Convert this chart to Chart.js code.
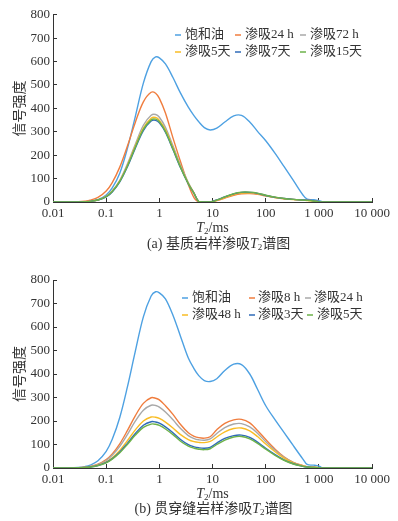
<!DOCTYPE html>
<html>
<head>
<meta charset="utf-8">
<script src="https://cdn.jsdelivr.net/npm/chart.js@4.4.0/dist/chart.umd.min.js"></script>
<style>
body{margin:0;background:#fff;}
canvas{display:block;}
</style>
</head>
<body>
<canvas id="chartA" width="398" height="256"></canvas>
<canvas id="chartB" width="398" height="265"></canvas>
<script>
// T2 sample points (ms), shared by every curve
const t2 = [0.01,0.02,0.03,0.04,0.05,0.07,0.1,0.13,0.18,0.25,0.35,0.5,0.7,0.85,1,1.3,1.8,2.5,3.5,4.5,5.5,7,9,12,17,25,35,50,70,100,150,220,330,500,600,800,1000,1200,2000,5000,10000];

const xTicks = [0.01,0.1,1,10,100,1000,10000];
const xTickLabels = ['0.01','0.1','1','10','100','1 000','10 000'];
const yTicks = [0,100,200,300,400,500,600,700,800];

// (a) matrix core
const namesA = ['饱和油','渗吸24 h','渗吸72 h','渗吸5天','渗吸7天','渗吸15天'];
const oilA  = [0,0,0.4,1.2,3,10,30,60,123,228,362,508,600,620,616,590,532,465,405,368,343,318,308,316,342,368,370,342,302,262,208,152,92,30,12,10,6,0,0,0,0];
const h24A  = [0,0,1.3,3.7,7.5,19.5,47,83,149,238,338,428,469,465,443,380,274,172,75,18,0,0,0,6,17,29,35,36,33,26,19,14,11,9,8,5,1,0,0,0,0];
const h72A  = [0,0,0.4,1.3,3,9,25,47,93,162,245,328,371,374,362,319,240,157,83,38,2,0,0,8,21,34,40,40,36,28,20,15,11,8,7,4,0,0,0,0,0];
const d5A   = [0,0,0.4,1.2,2.9,8.7,24,46,90,156,237,316,358,361,349,308,232,151,80,37,2,0,0,7,19,32,38,39,35,27,19,14,10,8,6,4,0,0,0,0,0];
const d7A   = [0,0,0.4,1.2,2.8,8.4,22,43,86,150,228,305,346,349,338,298,224,146,77,36,2,0,0,9,22,35,41,41,37,28,20,15,11,9,8,5,1,0,0,0,0];
const d15A  = [0,0,0.4,1.2,2.8,8.5,23,45,88,153,232,310,351,354,343,302,227,148,78,36,2,0,0,8,22,36,42,42,38,29,21,15,11,8,7,4,0,0,0,0,0];

// (b) through-fracture core
const namesB = ['饱和油','渗吸8 h','渗吸24 h','渗吸48 h','渗吸3天','渗吸5天'];
const oilB  = [0,0.6,2.5,6,12,31,71,122,215,344,493,643,732,750,745,720,650,560,468,422,393,372,368,380,415,442,440,400,335,265,205,152,95,38,15,12,8,0,0,0,0];
const h8B   = [0,0.3,1.3,3.3,6.5,16,36,60,103,159,221,275,299,297,290,265,228,185,150,135,129,127,133,163,190,205,207,192,160,121,80,48,24,10,6,3,1,0,0,0,0];
const h24B  = [0,0.3,1.2,3,6,14,32,54,92,142,198,246,267,266,259,238,205,168,138,125,120,118,124,147,172,187,189,175,148,112,75,45,23,9,5,3,1,0,0,0,0];
const h48B  = [0,0.2,0.9,2.4,4.7,12,26,44,75,116,161,200,217,216,211,195,170,142,121,112,109,108,113,132,154,168,170,158,134,102,69,42,22,9,5,3,1,0,0,0,0];
const d3B   = [0,0.2,0.9,2.2,4.3,10.5,24,40,68,105,146,182,197,196,191,175,150,121,99,90,86,84,88,106,126,138,140,130,110,84,57,35,18,7,4,2,1,0,0,0,0];
const d5B   = [0,0.2,0.8,2.1,4,10,22,38,65,100,139,173,187,186,181,166,142,114,93,84,80,78,82,100,119,132,134,124,105,80,54,33,17,7,4,2,1,0,0,0,0];

const colors = ['#4ea1e2','#f07d3e','#a8a8a8','#f9bd24','#2f6bb8','#6db24a'];

const serif = "'Liberation Serif','Noto Sans CJK SC',serif";
const txtColor = '#333';

function makeSets(names, series){
  return series.map((s, i) => ({
    label: names[i],
    data: t2.map((x, k) => ({x: x, y: s[k]})),
    borderColor: colors[i],
    borderWidth: 1.4,
    pointRadius: 0,
    fill: false,
    tension: 0.35,
    order: series.length - i
  }));
}

// draw a run of text pieces (normal / italic / subscript) centred on cx
function drawPieces(ctx, pieces, cx, cy){
  let w = 0;
  pieces.forEach(p => { ctx.font = p.font; p.w = ctx.measureText(p.text).width; w += p.w; });
  let x = cx - w / 2;
  ctx.textAlign = 'left';
  ctx.textBaseline = 'middle';
  ctx.fillStyle = txtColor;
  pieces.forEach(p => { ctx.font = p.font; ctx.fillText(p.text, x, cy + (p.dy || 0)); x += p.w; });
}

function t2Pieces(before, after){
  const out = [];
  if (before) out.push({text: before, font: '14px ' + serif});
  out.push({text: 'T', font: 'italic 14px ' + serif});
  out.push({text: '2', font: '9px ' + serif, dy: 4});
  out.push({text: after, font: '14px ' + serif});
  return out;
}

const decor = {
  id: 'decor',
  afterDraw(chart, args, o) {
    const ctx = chart.ctx;
    const area = chart.chartArea;
    const xs = chart.scales.x;
    ctx.save();
    // legend in 3 columns x 2 rows
    chart.data.datasets.forEach((ds, i) => {
      const col = i % 3, row = Math.floor(i / 3);
      const y = o.rowY[row];
      ctx.strokeStyle = ds.borderColor;
      ctx.lineWidth = 1.5;
      ctx.beginPath();
      ctx.moveTo(o.markX[row][col], y);
      ctx.lineTo(o.markX[row][col] + 6, y);
      ctx.stroke();
      ctx.fillStyle = txtColor;
      ctx.font = '13px ' + serif;
      ctx.textAlign = 'left';
      ctx.textBaseline = 'middle';
      ctx.fillText(ds.label, o.textX[row][col], y);
    });
    // x axis title
    const mid = (area.left + area.right) / 2;
    drawPieces(ctx, t2Pieces('', '/ms'), mid, xs.bottom - 12);
    // caption
    drawPieces(ctx, t2Pieces(o.capHead, '谱图'), mid + o.capShift, o.capY);
    ctx.restore();
  }
};

function makeChart(id, names, series, padTop, padBottom, deco){
  return new Chart(document.getElementById(id), {
    type: 'line',
    data: {datasets: makeSets(names, series)},
    options: {
      responsive: false,
      animation: false,
      devicePixelRatio: 1,
      layout: {padding: {top: padTop, right: 22, bottom: padBottom, left: 0}},
      plugins: {legend: {display: false}, tooltip: {enabled: false}, decor: deco},
      scales: {
        x: {
          type: 'logarithmic',
          min: 0.01, max: 10000,
          afterBuildTicks: s => { s.ticks = xTicks.map(v => ({value: v})); },
          afterFit: s => { s.height = 38; },
          ticks: {
            autoSkip: false, maxRotation: 0, padding: 8, color: txtColor,
            font: {family: serif, size: 13},
            callback: (v) => xTickLabels[xTicks.indexOf(v)]
          },
          grid: {drawOnChartArea: false, drawTicks: true, tickLength: -4, tickColor: '#333'},
          border: {display: true, color: '#333', width: 1}
        },
        y: {
          min: 0, max: 800,
          afterBuildTicks: s => { s.ticks = yTicks.map(v => ({value: v})); },
          afterFit: s => { s.width = 53; },
          ticks: {padding: 7, color: txtColor, font: {family: serif, size: 13}},
          grid: {drawOnChartArea: false, drawTicks: true, tickLength: -4, tickColor: '#333'},
          border: {display: true, color: '#333', width: 1},
          title: {display: true, text: '信号强度', color: txtColor,
                  font: {family: "'Noto Sans CJK SC',sans-serif", size: 14}, padding: {top: 10}}
        }
      }
    },
    plugins: [decor]
  });
}

makeChart('chartA', namesA, [oilA, h24A, h72A, d5A, d7A, d15A], 13, 16, {
  rowY: [35, 52],
  markX: [[175, 235, 300], [175, 235, 300]],
  textX: [[185, 245, 310], [185, 245, 310]],
  capHead: '(a) 基质岩样渗吸', capShift: 6, capY: 244
});

makeChart('chartB', namesB, [oilB, h8B, h24B, h48B, d3B, d5B], 24, 15, {
  rowY: [42, 59],
  markX: [[182, 249, 305], [182, 249, 307]],
  textX: [[192, 258, 314], [192, 258, 317]],
  capHead: '(b) 贯穿缝岩样渗吸', capShift: 1, capY: 253
});
</script>
</body>
</html>
